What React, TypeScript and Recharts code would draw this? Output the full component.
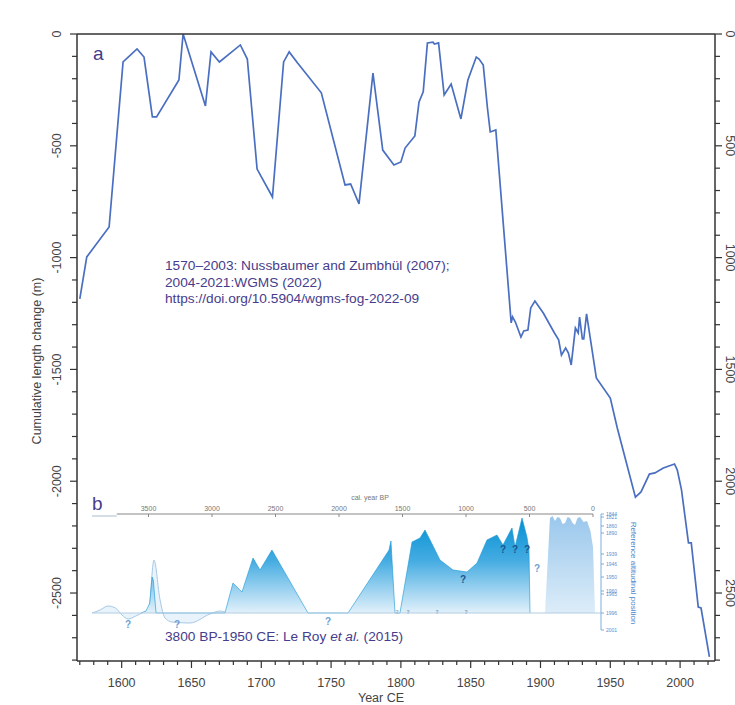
import React from "react";
import {
  LineChart,
  Line,
  XAxis,
  YAxis,
  ComposedChart,
  Area,
  Scatter,
  ReferenceLine,
} from "recharts";

// (a) cumulative length change, Year CE -> metres
const years = [
  1570, 1575, 1591, 1601, 1611, 1616, 1622, 1625, 1641, 1644, 1660, 1664, 1670, 1685, 1690, 1697,
  1708, 1716, 1720, 1726, 1730, 1743, 1760, 1764, 1770, 1780, 1787, 1795, 1800, 1803, 1810, 1813,
  1816, 1819, 1823, 1824, 1827, 1831, 1836, 1843, 1848, 1854, 1856, 1859, 1862, 1864, 1868, 1879,
  1880, 1882, 1886, 1888, 1891, 1893, 1896, 1902, 1910, 1913, 1915, 1918, 1920, 1922, 1925, 1927,
  1928, 1930, 1931, 1933, 1940, 1950, 1955, 1968, 1972, 1978, 1982, 1988, 1996, 1998, 2001, 2006,
  2008, 2013, 2015, 2021,
];
const lengthChange = [
  -1185, -997, -863, -125, -67, -103, -371, -371, -206, 0, -322, -80, -125, -49, -112, -604,
  -729, -125, -80, -130, -161, -263, -675, -671, -760, -175, -519, -586, -572, -510, -456, -304,
  -259, -40, -36, -45, -40, -273, -224, -380, -206, -103, -112, -139, -331, -438, -429, -1292,
  -1265, -1288, -1355, -1328, -1324, -1225, -1194, -1248, -1337, -1368, -1436, -1404, -1427, -1480, -1315, -1337,
  -1266, -1364, -1364, -1252, -1538, -1628, -1762, -2071, -2048, -1968, -1963, -1941, -1923, -1950, -2039, -2276,
  -2276, -2563, -2567, -2786,
];
const yearTicks = [
  1570, 1580, 1590, 1600, 1610, 1620, 1630, 1640, 1650, 1660, 1670, 1680, 1690, 1700, 1710, 1720,
  1730, 1740, 1750, 1760, 1770, 1780, 1790, 1800, 1810, 1820, 1830, 1840, 1850, 1860, 1870, 1880,
  1890, 1900, 1910, 1920, 1930, 1940, 1950, 1960, 1970, 1980, 1990, 2000, 2010, 2020,
];
const lengthTicks = [
  -2800, -2700, -2600, -2500, -2400, -2300, -2200, -2100, -2000, -1900, -1800, -1700, -1600, -1500,
  -1400, -1300, -1200, -1100, -1000, -900, -800, -700, -600, -500, -400, -300, -200, -100, 0,
];

// (b) inset, cal. year BP -> relative altitudinal position
const profileBp = [
  3560, 3520, 3490, 3472, 3462, 3441, 2898, 2835, 2764, 2677, 2622, 2528, 2244, 1929, 1606, 1591,
  1559, 1520, 1425, 1362, 1323, 1283, 1205, 1102, 992, 913, 835, 756, 709, 638, 614, 559, 520, 504,
  496,
];
const profileH = [
  0, 2, 10, 36, 33, 0, 0, 30, 21, 55, 43, 63, 0, 0, 63, 72,
  0, 0, 71, 75, 83, 73, 53, 43, 41, 50, 73, 78, 68, 85, 66, 95, 76, 63,
  0,
];
const blockBp = [378, 339, 319, 299, 280, 260, 240, 220, 200, 181, 161, 142, 122, 102, 75, 47, 20, 0, -16];
const blockH = [0, 95, 97, 92, 96, 95, 89, 90, 96, 95, 90, 88, 95, 96, 91, 92, 82, 66, 0];
const faintBp = [
  3945, 3882, 3819, 3760, 3709, 3661, 3600, 3551, 3500, 3457, 3409, 3370, 3315, 3173, 3016, 2937,
  2898,
];
const faintH = [0, 3, 7, 5, -2, -6, -3, 0, 3, 53, 13, -5, -9, -10, -1, 2, 1];
const qFaintBp = [3661, 3276, 2087, 441];
const qFaintH = [-11, -11, -8, 45];
const qDarkBp = [1024, 709, 614, 520];
const qDarkH = [34, 64, 64, 64];
const qSmallBp = [1543, 1457, 1228, 1000];
const qSmallH = [1, 1, 1, 1];
const bpTicks = [3500, 3000, 2500, 2000, 1500, 1000, 500, 0];
const altTickPos = [99, 96, 87, 80, 59, 49, 36, 22, 19, 0, -17];
const altTickLabels = ["1844", "1821", "1860", "1890", "1939", "1946", "1950", "1960", "1965", "1996", "2001"];

const FONT = "'Liberation Sans', Arial, sans-serif";
const AXIS = "#333";
const LABEL = "#444";
const NOTE = "#463c8c";
const PLOT = { left: 77, right: 715, top: 34, bottom: 661 };

const mainData = years.map((year, i) => ({ year, len: lengthChange[i] }));
const pts = (bp: number[], h: number[]) => bp.map((b, i) => ({ bp: b, h: h[i] }));

function BottomTick({ x, payload }: any) {
  const major = payload.value % 50 === 0;
  return (
    <g>
      <line x1={x} x2={x} y1={PLOT.bottom} y2={PLOT.bottom + (major ? 7 : 4)} stroke={AXIS} strokeWidth={1.2} />
      {major && (
        <text x={x} y={687} textAnchor="middle" fontSize={12.5} fill={LABEL} fontFamily={FONT}>
          {payload.value}
        </text>
      )}
    </g>
  );
}

function TopTick({ x, payload }: any) {
  const major = payload.value % 50 === 0;
  return (
    <g>
      <line x1={x} x2={x} y1={PLOT.top} y2={PLOT.top - (major ? 7 : 4)} stroke={AXIS} strokeWidth={1.2} />
      {major && (
        <text x={x} y={23} textAnchor="middle" fontSize={12.5} fill={LABEL} fontFamily={FONT}>
          {payload.value}
        </text>
      )}
    </g>
  );
}

function LeftTick({ y, payload }: any) {
  const major = payload.value % 500 === 0;
  return (
    <g>
      <line x1={PLOT.left} x2={PLOT.left - (major ? 7 : 5)} y1={y} y2={y} stroke={AXIS} strokeWidth={1.2} />
      {major && (
        <text
          x={57}
          y={y}
          transform={`rotate(-90 57 ${y})`}
          textAnchor="middle"
          dominantBaseline="central"
          fontSize={12.5}
          fill={LABEL}
          fontFamily={FONT}
        >
          {payload.value}
        </text>
      )}
    </g>
  );
}

function RightTick({ y, payload }: any) {
  const major = payload.value % 500 === 0;
  return (
    <g>
      <line x1={PLOT.right} x2={PLOT.right + (major ? 7 : 5)} y1={y} y2={y} stroke={AXIS} strokeWidth={1.2} />
      {major && (
        <text
          x={730}
          y={y}
          transform={`rotate(90 730 ${y})`}
          textAnchor="middle"
          dominantBaseline="central"
          fontSize={12.5}
          fill={LABEL}
          fontFamily={FONT}
        >
          {Math.abs(payload.value)}
        </text>
      )}
    </g>
  );
}

// inset chart local geometry
const INSET = { left: 92, top: 490, width: 560, height: 148, axisTop: 24, plotRight: 509, padBottom: 8 };

function BpTick({ x, payload }: any) {
  return (
    <g>
      <line x1={x} x2={x} y1={INSET.axisTop} y2={INSET.axisTop + 3} stroke="#888" />
      <text x={x} y={INSET.axisTop - 3} textAnchor="middle" fontSize={7} fill="#777" fontFamily={FONT}>
        {payload.value}
      </text>
    </g>
  );
}

function AltTick({ y, payload, index }: any) {
  const i = index ?? altTickPos.indexOf(payload.value);
  return (
    <g>
      <line x1={INSET.plotRight} x2={INSET.plotRight + 3} y1={y} y2={y} stroke="#7aaede" />
      <text x={INSET.plotRight + 5} y={y} dominantBaseline="central" fontSize={5} fill="#5b90d0" fontFamily={FONT}>
        {altTickLabels[i]}
      </text>
    </g>
  );
}

const qMark = (color: string, size: number) => (props: any) =>
  (
    <text
      x={props.cx}
      y={props.cy}
      textAnchor="middle"
      dominantBaseline="central"
      fontSize={size}
      fontWeight="bold"
      fill={color}
      fontFamily={FONT}
    >
      ?
    </text>
  );

function Inset() {
  return (
    <div style={{ position: "absolute", left: INSET.left, top: INSET.top }}>
      <ComposedChart
        width={INSET.width}
        height={INSET.height}
        margin={{ top: 0, right: 0, bottom: INSET.padBottom, left: 0 }}
      >
        <defs>
          <linearGradient id="profFill" x1="0" y1="0" x2="0" y2="1">
            <stop offset="0" stopColor="#0290d3" />
            <stop offset="0.45" stopColor="#45ace2" />
            <stop offset="1" stopColor="#e2f1fb" />
          </linearGradient>
          <linearGradient id="blockFill" x1="0" y1="0" x2="0" y2="1">
            <stop offset="0" stopColor="#8fc1ea" />
            <stop offset="1" stopColor="#d9ebf8" />
          </linearGradient>
        </defs>
        <XAxis
          type="number"
          dataKey="bp"
          orientation="top"
          domain={[-63, 3945]}
          reversed
          allowDataOverflow
          ticks={bpTicks}
          interval={0}
          height={INSET.axisTop}
          axisLine={false}
          tickLine={false}
          tick={(p: any) => <BpTick {...p} />}
        />
        <YAxis
          type="number"
          dataKey="h"
          orientation="right"
          domain={[-17, 99]}
          allowDataOverflow
          ticks={altTickPos}
          interval={0}
          width={INSET.width - INSET.plotRight}
          axisLine={{ stroke: "#7aaede" }}
          tickLine={false}
          tick={(p: any) => <AltTick {...p} />}
        />
        <ReferenceLine segment={[{ x: 3945, y: 97 }, { x: 3750, y: 97 }]} stroke="#d5dde5" strokeWidth={2} />
        <ReferenceLine segment={[{ x: 3750, y: 99 }, { x: 0, y: 99 }]} stroke="#888" strokeWidth={1.2} />
        <ReferenceLine y={0} stroke="#b3cde2" strokeWidth={1} />
        <Area
          data={pts(faintBp, faintH)}
          dataKey="h"
          type="monotone"
          stroke="#a9c9e6"
          strokeWidth={1}
          fill="#d8ebf8"
          fillOpacity={0.6}
          isAnimationActive={false}
          dot={false}
          activeDot={false}
        />
        <Area
          data={pts(blockBp, blockH)}
          dataKey="h"
          type="linear"
          stroke="none"
          fill="url(#blockFill)"
          fillOpacity={0.9}
          isAnimationActive={false}
          dot={false}
          activeDot={false}
        />
        <Area
          data={pts(profileBp, profileH)}
          dataKey="h"
          type="linear"
          stroke="#1795d4"
          strokeWidth={0.6}
          fill="url(#profFill)"
          fillOpacity={1}
          isAnimationActive={false}
          dot={false}
          activeDot={false}
        />
        <Scatter data={pts(qFaintBp, qFaintH)} shape={qMark("#6f9fd2", 10)} isAnimationActive={false} />
        <Scatter data={pts(qDarkBp, qDarkH)} shape={qMark("#1c5590", 10)} isAnimationActive={false} />
        <Scatter data={pts(qSmallBp, qSmallH)} shape={qMark("#7f9fba", 5)} isAnimationActive={false} />
      </ComposedChart>
    </div>
  );
}

export default function App() {
  return (
    <div style={{ position: "absolute", left: 0, top: 0, width: 735, height: 705, background: "#fff" }}>
      <LineChart width={735} height={705} data={mainData} margin={{ top: 0, right: 0, bottom: 0, left: 0 }}>
        <XAxis
          xAxisId="b"
          type="number"
          dataKey="year"
          domain={[1568, 2025]}
          allowDataOverflow
          ticks={yearTicks}
          interval={0}
          height={44}
          tickLine={false}
          axisLine={{ stroke: AXIS, strokeWidth: 1.5 }}
          tick={(p: any) => <BottomTick {...p} />}
        />
        <XAxis
          xAxisId="t"
          type="number"
          orientation="top"
          domain={[1568, 2025]}
          allowDataOverflow
          ticks={yearTicks}
          interval={0}
          height={34}
          tickLine={false}
          axisLine={{ stroke: AXIS, strokeWidth: 1.5 }}
          tick={(p: any) => <TopTick {...p} />}
        />
        <YAxis
          yAxisId="l"
          type="number"
          domain={[-2804, 0]}
          allowDataOverflow
          ticks={lengthTicks}
          interval={0}
          width={77}
          tickLine={false}
          axisLine={{ stroke: AXIS, strokeWidth: 1.5 }}
          tick={(p: any) => <LeftTick {...p} />}
        />
        <YAxis
          yAxisId="r"
          type="number"
          orientation="right"
          domain={[-2804, 0]}
          allowDataOverflow
          ticks={lengthTicks}
          interval={0}
          width={20}
          tickLine={false}
          axisLine={{ stroke: AXIS, strokeWidth: 1.5 }}
          tick={(p: any) => <RightTick {...p} />}
        />
        <Line
          xAxisId="b"
          yAxisId="l"
          dataKey="len"
          type="linear"
          stroke="#4a6fc1"
          strokeWidth={1.7}
          dot={false}
          activeDot={false}
          isAnimationActive={false}
        />
      </LineChart>
      <Inset />
      <svg
        width={735}
        height={705}
        style={{ position: "absolute", left: 0, top: 0, pointerEvents: "none" }}
        fontFamily={FONT}
      >
        <text x={93} y={60} fontSize={19} fill={NOTE}>a</text>
        <text x={92} y={510} fontSize={19} fill={NOTE}>b</text>
        <text fontSize={13.7} fill={NOTE}>
          <tspan x={165} y={270}>1570–2003: Nussbaumer and Zumbhül (2007);</tspan>
          <tspan x={165} y={287}>2004-2021:WGMS (2022)</tspan>
          <tspan x={165} y={303}>https://doi.org/10.5904/wgms-fog-2022-09</tspan>
        </text>
        <text x={165} y={641} fontSize={13.7} fill={NOTE}>
          3800 BP-1950 CE: Le Roy <tspan fontStyle="italic">et al.</tspan> (2015)
        </text>
        <text
          x={37}
          y={361}
          transform="rotate(-90 37 361)"
          textAnchor="middle"
          dominantBaseline="central"
          fontSize={12.5}
          fill={LABEL}
        >
          Cumulative length change (m)
        </text>
        <text x={381} y={702} textAnchor="middle" fontSize={12.5} fill={LABEL}>
          Year CE
        </text>
        <text x={370} y={500} textAnchor="middle" fontSize={7} fill="#777">
          cal. year BP
        </text>
        <text
          x={633}
          y={573}
          transform="rotate(90 633 573)"
          textAnchor="middle"
          dominantBaseline="central"
          fontSize={8}
          fill="#4a86cc"
        >
          Reference altitudinal position
        </text>
      </svg>
    </div>
  );
}
